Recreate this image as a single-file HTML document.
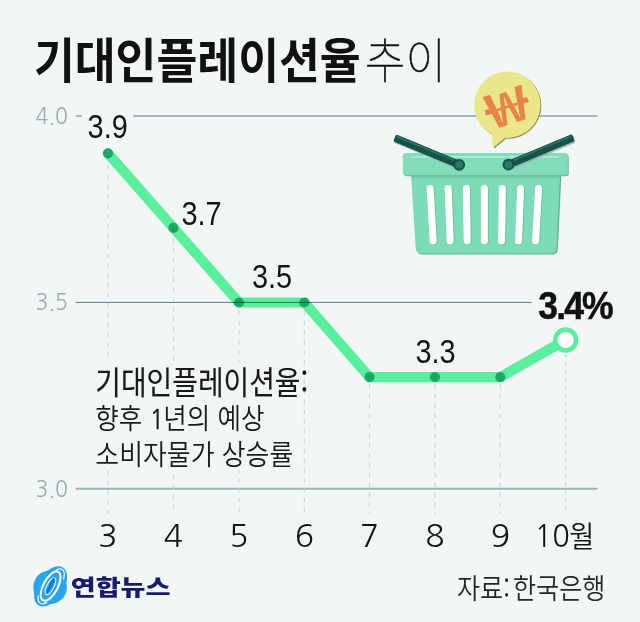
<!DOCTYPE html>
<html lang="ko">
<head>
<meta charset="utf-8">
<title>기대인플레이션율 추이</title>
<style>
  html,body{margin:0;padding:0;background:#f2f6f5;}
  body{width:640px;height:622px;overflow:hidden;}
  svg{display:block;}
  .ko{font-family:"Liberation Sans","Noto Sans CJK KR",sans-serif;}
  .kr{font-family:"Noto Sans CJK KR","Liberation Sans",sans-serif;}
  .num{font-family:"Liberation Sans",sans-serif;}
  .lnum{font-family:"NanumGothic","Liberation Sans",sans-serif;}
</style>
</head>
<body>
<svg width="640" height="622" viewBox="0 0 640 622">
  <rect width="640" height="622" fill="#f2f6f5"/>

  <!-- grid lines -->
  <g stroke="#5c7c84" fill="none">
    <line x1="75.8" y1="116" x2="81.8" y2="116" stroke-width="1"/>
    <line x1="133" y1="116" x2="597.5" y2="116" stroke-width="1"/>
    <line x1="75.5" y1="302.4" x2="531.5" y2="302.4" stroke-width="1"/>
    <line x1="75.5" y1="488.8" x2="597.5" y2="488.8" stroke-width="2" stroke="#9fb3b4"/>
  </g>

  <!-- vertical dashed guides -->
  <g stroke="#c5d6dc" stroke-width="1.1" stroke-dasharray="4.3 5.56" fill="none">
    <line x1="108" y1="155.10" x2="108" y2="514.2"/>
    <line x1="173.5" y1="228.30" x2="173.5" y2="514.2"/>
    <line x1="239" y1="300.90" x2="239" y2="514.2"/>
    <line x1="304.3" y1="300.90" x2="304.3" y2="514.2"/>
    <line x1="369.5" y1="374.24" x2="369.5" y2="514.2"/>
    <line x1="435" y1="374.24" x2="435" y2="514.2"/>
    <line x1="500.3" y1="374.24" x2="500.3" y2="514.2"/>
    <line x1="565.7" y1="353.8" x2="565.7" y2="514.2" stroke-dasharray="4.2 3.82"/>
  </g>

  <!-- explanation box -->
  <rect x="90" y="362.5" width="208" height="108" fill="#f2f6f5"/>

  <!-- data line (multiply blended like the original artwork) -->
  <g style="mix-blend-mode:multiply">
    <polyline points="108,153.3 173.5,227.9 239,302.5 304.3,302.5 369.5,377.1 435,377.1 500.3,377.1 565.7,340"
              fill="none" stroke="#5ef8a3" stroke-width="10.2" stroke-linejoin="miter" stroke-linecap="round"/>
  </g>
  <g fill="#54b5a2" style="mix-blend-mode:multiply">
    <circle cx="108" cy="153.3" r="5.1"/>
    <circle cx="173.5" cy="227.9" r="5.1"/>
    <circle cx="239" cy="302.5" r="5.1"/>
    <circle cx="304.3" cy="302.5" r="5.1"/>
    <circle cx="369.5" cy="377.1" r="5.1"/>
    <circle cx="435" cy="377.1" r="5.1"/>
    <circle cx="500.3" cy="377.1" r="5.1"/>
  </g>

  <!-- end marker -->
  <circle cx="565.7" cy="340" r="10.4" fill="#ffffff" stroke="#5aee9c" stroke-width="4.6"/>

  <!-- y axis labels -->
  <g class="lnum" font-size="23" fill="#97adae">
    <text transform="translate(35.6,123.8) scale(0.925,1)">4.0</text>
    <text transform="translate(35.6,310.3) scale(0.925,1)">3.5</text>
    <text transform="translate(35.6,496.8) scale(0.925,1)">3.0</text>
  </g>

  <!-- value labels -->
  <g class="num" font-size="34" fill="#151515" text-anchor="middle">
    <text transform="translate(107.7,138.2) scale(0.85,1)">3.9</text>
    <text transform="translate(201.5,225.4) scale(0.85,1)">3.7</text>
    <text transform="translate(272,288.1) scale(0.85,1)">3.5</text>
    <text transform="translate(435.5,363.3) scale(0.85,1)">3.3</text>
  </g>
  <text class="num" font-size="39.5" font-weight="700" fill="#111" stroke="#111" stroke-width="0.5" letter-spacing="-2.1" transform="translate(538.3,319) scale(0.9,1)">3.4%</text>

  <!-- x axis labels -->
  <g class="lnum" font-size="31" fill="#151515" text-anchor="middle">
    <text transform="translate(108,546.7) scale(1.03,1)">3</text>
    <text transform="translate(173.5,546.7) scale(1.03,1)">4</text>
    <text transform="translate(239,546.7) scale(1.03,1)">5</text>
    <text transform="translate(304.3,546.7) scale(1.03,1)">6</text>
    <text transform="translate(369.5,546.7) scale(1.03,1)">7</text>
    <text transform="translate(435,546.7) scale(1.03,1)">8</text>
    <text transform="translate(500.3,546.7) scale(1.03,1)">9</text>
  </g>
  <text class="lnum" font-size="31" fill="#151515" transform="translate(534.6,546.7) scale(0.935,1)">10<tspan class="kr" font-weight="350" font-size="29.2" dx="-0.6" dy="0">월</tspan></text>

  <!-- title -->
  <text class="kr" font-size="47.8" font-weight="700" fill="#111" transform="translate(33.9,77.6) scale(0.929,1)">기대인플레이션율</text>
  <text class="kr" font-size="47.8" font-weight="100" fill="#111" stroke="#111" stroke-width="0.55" transform="translate(364.8,77.6) scale(0.9235,1)">추이</text>

  <!-- explanation text -->
  <text class="kr" font-size="31.7" font-weight="400" fill="#1a1a1a" stroke="#1a1a1a" stroke-width="0.15" transform="translate(95.3,393.5) scale(0.88,1)">기대인플레이션율:</text>
  <text class="kr" font-size="28.9" font-weight="350" fill="#1a1a1a" transform="translate(95.3,429.3) scale(0.885,1)">향후 <tspan class="lnum" font-size="27.6" stroke="#1a1a1a" stroke-width="0.3">1</tspan><tspan dx="-1.2">년의 예상</tspan></text>
  <text class="kr" font-size="28.9" font-weight="350" fill="#1a1a1a" transform="translate(95.3,465.4) scale(0.897,1)">소비자물가 상승률</text>

  <!-- source -->
  <text class="kr" font-size="28" font-weight="350" fill="#262626" word-spacing="-4.5" transform="translate(457,598.5) scale(0.897,1)">자료: 한국은행</text>

  <!-- logo -->
  <g>
    <circle cx="50.1" cy="587.2" r="16.8" fill="#27a5f1"/>
    <ellipse cx="50.6" cy="586.4" rx="13" ry="22.6" transform="rotate(33.5 50.6 586.4)" fill="#27a5f1"/>
    <ellipse cx="51.2" cy="586.4" rx="8.2" ry="20.2" transform="rotate(33.5 51.2 586.4)" fill="none" stroke="#ffffff" stroke-width="1.3" stroke-dasharray="0 15.5 16 31.5 17 17" opacity="0.9"/>
    <ellipse cx="50.6" cy="586.1" rx="7.2" ry="16.2" transform="rotate(28 50.6 586.1)" fill="none" stroke="#ffffff" stroke-width="2"/>
    <ellipse cx="50.4" cy="586.2" rx="3.6" ry="9.4" transform="rotate(28 50.4 586.2)" fill="#2aa1ee" stroke="#ffffff" stroke-width="1"/>
    <line x1="53.6" y1="579.4" x2="47.4" y2="592.4" stroke="#1874d2" stroke-width="2.6" stroke-linecap="round"/>
    <text class="kr" font-size="21.7" font-weight="900" fill="#171b6e" transform="translate(70.7,594.5) scale(1.25,1)">연합뉴스</text>
  </g>

  <!-- basket illustration -->
  <g>
    <!-- speech bubble with won -->
    <g>
      <g fill="#8e8f58" transform="translate(0.9,0.9)">
        <path d="M491.2 128 L493.2 147.6 L505 138 Z"/>
        <circle cx="507.3" cy="104.7" r="33.2"/>
      </g>
      <path d="M491.2 128 L493.2 147.6 L505 138 Z" fill="#eae78b"/>
      <circle cx="507.3" cy="104.7" r="33.2" fill="#eae78b"/>
      <g transform="translate(507,107) rotate(-17.6)" fill="#e8844a">
        <text class="kr" font-size="47.7" font-weight="500" text-anchor="middle" transform="scale(1.56,1)" x="0" y="17.5">₩</text>
        <rect x="-22.2" y="-3.6" width="9" height="5.5"/>
        <rect x="13.2" y="-3.6" width="9" height="5.5"/>
      </g>
    </g>
    <!-- body -->
    <path d="M411.1 175 L560 175 L556.6 248 Q556.3 253.4 551 253.4 L421 253.4 Q416 253.4 415.6 248 Z" fill="#5db595" transform="translate(1.3,1)"/>
    <path d="M411.1 175 L560 175 L556.6 248 Q556.3 253.4 551 253.4 L421 253.4 Q416 253.4 415.6 248 Z" fill="#7ddbb7"/>
    <rect x="411.3" y="174.8" width="148.6" height="3" fill="#69c7a4"/>
    <!-- rim -->
    <rect x="403.8" y="154.3" width="165" height="22" rx="3" fill="#7bb8a2"/>
    <rect x="402.8" y="153.1" width="165" height="22" rx="3" fill="#80dcb9"/>
    <line x1="411" y1="156.9" x2="558.7" y2="156.9" stroke="#b6f4dc" stroke-width="1.1"/>
    <!-- slots -->
    <g stroke="#62c3a0" stroke-width="7" stroke-linecap="round" transform="translate(0.9,0.3)">
      <line x1="430.2" y1="188.6" x2="433.2" y2="240.8"/>
      <line x1="448.2" y1="188.6" x2="450.2" y2="240.8"/>
      <line x1="466.4" y1="188.6" x2="467.2" y2="240.8"/>
      <line x1="484.4" y1="188.6" x2="484.4" y2="240.8"/>
      <line x1="502.4" y1="188.6" x2="501.6" y2="240.8"/>
      <line x1="520.6" y1="188.6" x2="518.6" y2="240.8"/>
      <line x1="538.6" y1="188.6" x2="535.6" y2="240.8"/>
    </g>
    <g stroke="#ffffff" stroke-width="7" stroke-linecap="round">
      <line x1="430.2" y1="188.6" x2="433.2" y2="240.8"/>
      <line x1="448.2" y1="188.6" x2="450.2" y2="240.8"/>
      <line x1="466.4" y1="188.6" x2="467.2" y2="240.8"/>
      <line x1="484.4" y1="188.6" x2="484.4" y2="240.8"/>
      <line x1="502.4" y1="188.6" x2="501.6" y2="240.8"/>
      <line x1="520.6" y1="188.6" x2="518.6" y2="240.8"/>
      <line x1="538.6" y1="188.6" x2="535.6" y2="240.8"/>
    </g>
    <!-- handles -->
    <g transform="translate(1.1,1.4)" opacity="0.75">
      <rect x="0" y="-3.80" width="69.98" height="7.6" rx="1.8" transform="translate(394.6,137.9) rotate(22.61)" fill="#93aba3"/>
      <rect x="0" y="-3.80" width="70.42" height="7.6" rx="1.8" transform="translate(573.4,137.6) rotate(157.37)" fill="#93aba3"/>
    </g>
    <rect x="0" y="-3.80" width="69.98" height="7.6" rx="1.8" transform="translate(394.6,137.9) rotate(22.61)" fill="#14524a"/>
    <rect x="0" y="-3.80" width="70.42" height="7.6" rx="1.8" transform="translate(573.4,137.6) rotate(157.37)" fill="#14524a"/>
    <rect x="1.5" y="-2.9" width="61.98" height="1.5" rx="0.6" transform="translate(394.6,137.9) rotate(22.61)" fill="#2b7868"/>
    <rect x="1.5" y="1.4" width="62.42" height="1.5" rx="0.6" transform="translate(573.4,137.6) rotate(157.37)" fill="#2b7868"/>
    <circle cx="459.2" cy="164.8" r="4.9" fill="#2d7968" stroke="#14524a" stroke-width="2"/>
    <circle cx="508.4" cy="164.7" r="4.9" fill="#2d7968" stroke="#14524a" stroke-width="2"/>
  </g>
</svg>
</body>
</html>
